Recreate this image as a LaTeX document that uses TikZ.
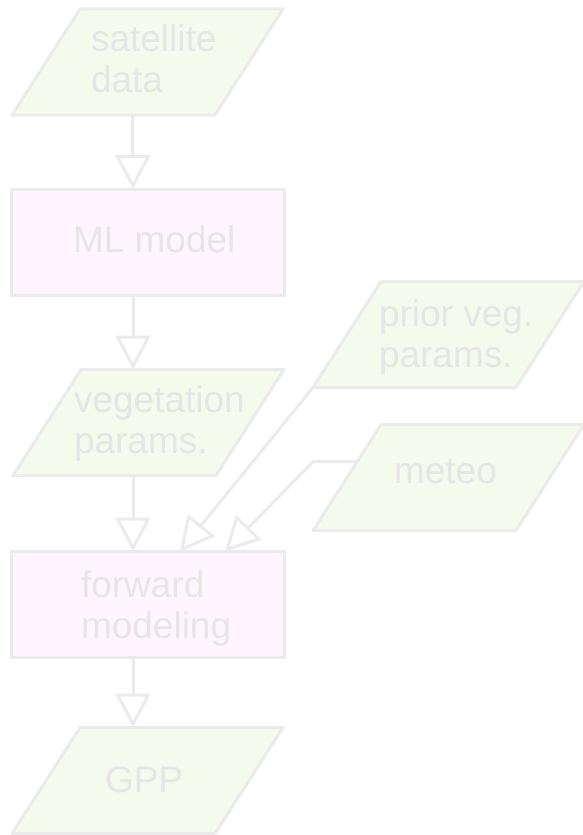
\documentclass[tikz,border=0pt]{standalone}
\usepackage{fontspec}
\setmainfont{Liberation Sans}
\usetikzlibrary{arrows.meta,calc}
\definecolor{lineC}{HTML}{EBEBEB}
\definecolor{textC}{HTML}{E6E6E6}
\definecolor{greenC}{HTML}{F4FAEC}
\definecolor{pinkC}{HTML}{FEF5FE}
\newcommand{\myparallelo}[1]{%
  \draw[paraline] (#1.south west) -- ($(#1.north west)+(68,0)$) -- (#1.north east)
    -- ($(#1.south east)+(-68,0)$) -- cycle;}
\tikzset{
  parabox/.style={rectangle, minimum width=271bp, minimum height=106bp,
    inner sep=0pt, outer sep=0pt},
  paraline/.style={draw=lineC, fill=greenC, line width=3bp, line join=round},
  procbox/.style={rectangle, minimum width=272bp, minimum height=106bp,
    inner sep=0pt, outer sep=0pt, draw=lineC, fill=pinkC, line width=3bp},
  lbl/.style={anchor=base west, inner sep=0pt, outer sep=0pt, text=textC, align=left,
    font=\fontsize{37bp}{41bp}\selectfont},
  arr/.style={draw=lineC, line width=3bp, -{Triangle[open, length=34bp, width=35bp, line join=miter]}},
}
\begin{document}
\begin{tikzpicture}[x=1bp,y=-1bp]
\useasboundingbox (0,0) rectangle (583,835);
% shapes
\node[parabox] (sat) at (147.5,62) {};
\node[procbox] (ml) at (148,242) {};
\node[parabox] (veg) at (148.5,422.5) {};
\node[procbox] (fwd) at (148,604.5) {};
\node[parabox] (gpp) at (147.5,780.5) {};
\node[parabox] (prior) at (448.5,334.5) {};
\node[parabox] (meteo) at (448.5,477.5) {};
\myparallelo{sat}
\myparallelo{veg}
\myparallelo{gpp}
\myparallelo{prior}
\myparallelo{meteo}
% labels
\node[lbl] (satT) at (91,92) {satellite\\data};
\node[lbl] (mlT) at (73,252) {ML model};
\node[lbl] (vegT) at (74,453) {vegetation\\params.};
\node[lbl] (fwdT) at (81,638) {forward\\modeling};
\node[lbl] (gppT) at (105,792) {GPP};
\node[lbl] (priorT) at (379,367) {prior veg.\\params.};
\node[lbl] (meteoT) at (394,483) {meteo};
% connectors
\draw[arr] ($(sat.south)+(-15,0)$) -- ($(ml.north)+(-15,0)$);
\draw[arr] ($(ml.south)+(-15,0)$) -- ($(veg.north)+(-15.5,0)$);
\draw[arr] ($(veg.south)+(-15.5,0)$) -- ($(fwd.north)+(-15,0)$);
\draw[arr] ($(fwd.south)+(-15,0)$) -- ($(gpp.north)+(-14.5,0)$);
\draw[arr] (prior.south west) -- ($(fwd.north)+(32,0)$);
\coordinate (mtl) at ($(meteo.north west)+(68,0)$);
\coordinate (mstart) at ($(mtl)!0.35!(meteo.south west)$);
\draw[arr] (mstart) -- ++(-44,0) -- ($(fwd.north)+(77,0)$);
\end{tikzpicture}
\end{document}
